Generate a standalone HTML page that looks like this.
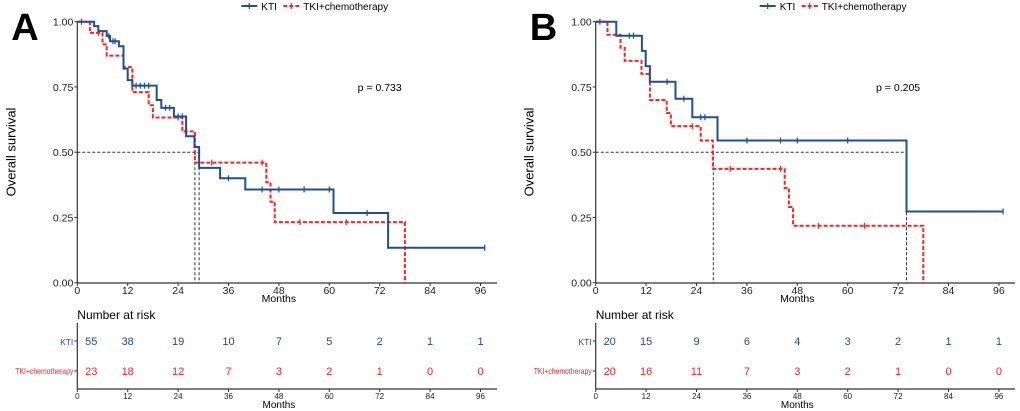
<!DOCTYPE html>
<html><head><meta charset="utf-8"><style>
html,body{margin:0;padding:0;background:#fff;}
svg{display:block;font-family:"Liberation Sans",Arial,sans-serif;}
</style></head><body>
<svg id="chart" width="1020" height="411" viewBox="0 0 1020 411"></svg>
<script>
// Panel A data
const aKtiTimes = [4,5,7,7.8,9.9,11,12,13.1,18.9,20,23,25.9,27.9,29,34,40,61,74];
const aKtiSurv  = [0.983,0.964,0.945,0.925,0.906,0.82,0.776,0.755,0.70,0.67,0.637,0.561,0.52,0.44,0.40,0.357,0.267,0.134];
const aKtiCens  = [1,7.5,8.5,9,14,15,16,17,21,22,24,25,36,44,48,54,60,69,97];
const aTkiTimes = [3,6,7,11,13.1,17,18,25,28,45,46,47,78];
const aTkiSurv  = [0.957,0.913,0.87,0.826,0.73,0.68,0.633,0.58,0.46,0.385,0.31,0.232,0];
const aTkiCens  = [5,24,26,32,44,53,64];
const aMedians  = [28,29];
const aRiskKti  = [55,38,19,10,7,5,2,1,1];
const aRiskTki  = [23,18,12,7,3,2,1,0,0];
const aP = "p = 0.733";
// Panel B data
const bKtiTimes = [4.9,11,11.9,12.9,19,23,29,74];
const bKtiSurv  = [0.946,0.888,0.83,0.77,0.705,0.634,0.545,0.273];
const bKtiCens  = [1,8,9,17,21,25,26,36,44,48,60,97];
const bTkiTimes = [2.8,5.9,6.9,10.9,12.9,16.9,17.9,25,27.9,45,46,47,78];
const bTkiSurv  = [0.95,0.9,0.85,0.80,0.70,0.65,0.60,0.545,0.436,0.363,0.29,0.218,0];
const bTkiCens  = [23,32,44,53,64];
const bMedians  = [28,74];
const bRiskKti  = [20,15,9,6,4,3,2,1,1];
const bRiskTki  = [20,16,11,7,3,2,1,0,0];
const bP = "p = 0.205";
const xTicks = [0,12,24,36,48,60,72,84,96];
const yTicks = [0,0.25,0.5,0.75,1];

const NS="http://www.w3.org/2000/svg";
const svg=document.getElementById('chart');
function mk(tag,attrs,parent){const e=document.createElementNS(NS,tag);for(const k in attrs)e.setAttribute(k,attrs[k]);(parent||svg).appendChild(e);return e;}
function txt(s,attrs,parent){const e=mk('text',attrs,parent);e.textContent=s;return e;}
const BLUE="#1f4e9c", RED="#ff2020";

function panel(ox,axisEnd,letter,kt,ks,kc,tt,ts,tc,meds,rk,rt,p){
  const g=mk('g',{});
  
  
  const X=m=>ox+m*4.2;
  const Y=s=>282.7-s*261;
  const pl=txt(letter,{x:ox-66,y:40,'font-size':38,'font-weight':'bold'},g);
  
  const yt=txt('Overall survival',{x:0,y:0,'font-size':13,'text-anchor':'middle',transform:`translate(${ox-62},152) rotate(-90)`},g);
  
  mk('line',{x1:ox,y1:21,x2:ox,y2:283,stroke:'#333','stroke-width':1.2},g);
  mk('line',{x1:ox,y1:283,x2:axisEnd,y2:283,stroke:'#333','stroke-width':1.2},g);
  yTicks.forEach(v=>{
    mk('line',{x1:ox-3,y1:Y(v),x2:ox,y2:Y(v),stroke:'#333'},g);
    const t=txt(v.toFixed(2),{x:ox-4,y:Y(v)+4,'font-size':10.5,'text-anchor':'end',fill:'#222'},g);
    
  });
  xTicks.forEach(v=>{
    mk('line',{x1:X(v),y1:283,x2:X(v),y2:286,stroke:'#333'},g);
    const t=txt(v,{x:X(v),y:294,'font-size':10.5,'text-anchor':'middle',fill:'#222'},g);
    
  });
  const xt=txt('Months',{x:X(48),y:302,'font-size':10.5,'text-anchor':'middle'},g);
  
  const lastMed=Math.max(...meds);
  mk('line',{x1:ox,y1:Y(0.5),x2:X(lastMed),y2:Y(0.5),stroke:'#333','stroke-dasharray':'3,2','stroke-width':1},g);
  meds.forEach(m=>mk('line',{x1:X(m),y1:Y(0.5),x2:X(m),y2:Y(0),stroke:'#333','stroke-dasharray':'3,2','stroke-width':1},g));
  function curve(times,surv,cens,color,dash,name,end){
    let d=`M${X(0)},${Y(1)}`;
    times.forEach((t,i)=>{d+=` H${X(t)} V${Y(surv[i])}`;});
    if(end!==undefined)d+=` H${X(end)}`;
    const path=mk('path',{d:d,fill:'none',stroke:color,'stroke-width':2,'stroke-dasharray':dash||'none'},g);
    
    cens.forEach(c=>{
      let v=1;times.forEach((t,i)=>{if(t<=c)v=surv[i];});
      mk('line',{x1:X(c),y1:Y(v)-3,x2:X(c),y2:Y(v)+3,stroke:color,'stroke-width':1.2},g);
    });
  }
  curve(tt,ts,tc,RED,'4,2','tki-chemo-curve');
  curve(kt,ks,kc,BLUE,null,'kti-curve',97);
  const pt=txt(p,{x:X(72),y:91,'font-size':10.5,'text-anchor':'middle'},g);
  
  const lx=ox+164;
  const l1=mk('g',{},g);
  mk('line',{x1:lx,y1:6,x2:lx+16,y2:6,stroke:BLUE,'stroke-width':2},l1);
  mk('line',{x1:lx+8,y1:3,x2:lx+8,y2:9,stroke:BLUE,'stroke-width':1.2},l1);
  txt('KTI',{x:lx+20,y:10,'font-size':10},l1);
  const l2=mk('g',{},g);
  mk('line',{x1:lx+42,y1:6,x2:lx+58,y2:6,stroke:RED,'stroke-width':2,'stroke-dasharray':'4,2'},l2);
  mk('line',{x1:lx+50,y1:3,x2:lx+50,y2:9,stroke:RED,'stroke-width':1.2},l2);
  txt('TKI+chemotherapy',{x:lx+62,y:10,'font-size':10},l2);
  const rh=txt('Number at risk',{x:ox,y:319,'font-size':12},g);
  
  mk('line',{x1:ox,y1:323,x2:ox,y2:389,stroke:'#333','stroke-width':1.2},g);
  mk('line',{x1:ox,y1:389,x2:axisEnd,y2:389,stroke:'#333','stroke-width':1.2},g);
  txt('KTI',{x:ox-4,y:345,'font-size':8.5,'text-anchor':'end',fill:BLUE},g);
  txt('TKI+chemotherapy',{x:ox-62,y:374,'font-size':8.5,textLength:58,lengthAdjust:'spacingAndGlyphs',fill:RED},g);
  mk('line',{x1:ox-3,y1:341,x2:ox,y2:341,stroke:'#333'},g);
  mk('line',{x1:ox-3,y1:371,x2:ox,y2:371,stroke:'#333'},g);
  xTicks.forEach((v,i)=>{
    const xx=i===0?X(v)+14:X(v);
    const a=txt(rk[i],{x:xx,y:345,'font-size':11,'text-anchor':'middle',fill:BLUE},g);
    
    const b=txt(rt[i],{x:xx,y:375,'font-size':11,'text-anchor':'middle',fill:RED},g);
    
    mk('line',{x1:X(v),y1:389,x2:X(v),y2:392,stroke:'#333'},g);
    txt(v,{x:X(v),y:399,'font-size':8,'text-anchor':'middle',fill:'#222'},g);
  });
  txt('Months',{x:X(48),y:408,'font-size':10,'text-anchor':'middle'},g);
}
panel(77.3,497,'A',aKtiTimes,aKtiSurv,aKtiCens,aTkiTimes,aTkiSurv,aTkiCens,aMedians,aRiskKti,aRiskTki,aP);
panel(595.7,1015,'B',bKtiTimes,bKtiSurv,bKtiCens,bTkiTimes,bTkiSurv,bTkiCens,bMedians,bRiskKti,bRiskTki,bP);
</script>
</body></html>
